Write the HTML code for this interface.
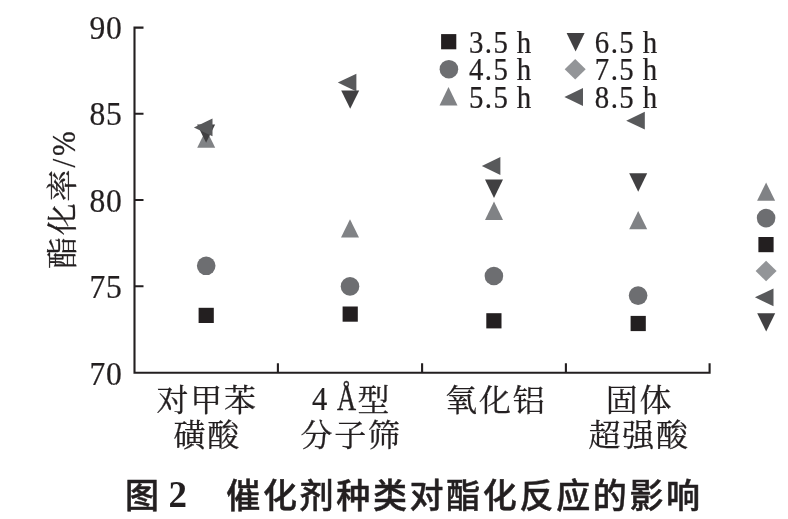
<!DOCTYPE html>
<html lang="zh-CN">
<head>
<meta charset="utf-8">
<title>图 2 催化剂种类对酯化反应的影响</title>
<style>
html,body{margin:0;padding:0;background:#fff;}
body{width:788px;height:519px;overflow:hidden;}
svg{display:block;}
.num{font-family:"Liberation Serif",serif;font-size:34px;letter-spacing:0.85px;fill:#231f20;stroke:#231f20;stroke-width:0.25px;}
.leg{font-family:"Liberation Serif",serif;font-size:32px;letter-spacing:1.6px;word-spacing:-1.2px;fill:#231f20;stroke:#231f20;stroke-width:0.25px;}
.cjk{font-family:"Liberation Serif","Noto Serif CJK SC",serif;font-size:32px;letter-spacing:1.8px;fill:#231f20;stroke:#231f20;stroke-width:0.3px;}
.cap{font-family:"Liberation Sans","Noto Sans CJK SC",sans-serif;font-weight:500;font-size:34px;fill:#231f20;stroke:#231f20;stroke-width:0.5px;}
.capn{font-family:"Liberation Serif",serif;font-weight:bold;font-size:37px;fill:#231f20;stroke:none;letter-spacing:0;}
</style>
</head>
<body>
<svg width="788" height="519" viewBox="0 0 788 519">
<rect width="788" height="519" fill="#ffffff"/>
<path d="M143.5,27.6 H134.5 V372.7 H709.6 V363.3" fill="none" stroke="#231f20" stroke-width="2.1" stroke-linejoin="miter"/>
<path d="M134.5,113.8 H143.5 M134.5,200 H143.5 M134.5,286.3 H143.5 M277.9,372.7 V363.3 M422.1,372.7 V363.3 M565.9,372.7 V363.3" fill="none" stroke="#231f20" stroke-width="2.1"/>
<rect x="198.60" y="307.80" width="15.2" height="15.2" fill="#231f20"/>
<circle cx="206.2" cy="265.8" r="9.3" fill="#6d6e71"/>
<polygon points="206.20,129.40 215.20,147.80 197.20,147.80" fill="#808285"/>
<polygon points="197.10,124.40 215.10,124.40 206.10,142.80" fill="#414042"/>
<polygon points="193.90,127.40 212.50,118.50 212.50,136.30" fill="#58595b"/>
<rect x="342.60" y="306.50" width="15.2" height="15.2" fill="#231f20"/>
<circle cx="350" cy="286.4" r="9.3" fill="#6d6e71"/>
<polygon points="350.00,219.20 359.00,237.60 341.00,237.60" fill="#808285"/>
<polygon points="341.20,90.40 359.20,90.40 350.20,108.80" fill="#414042"/>
<polygon points="337.80,82.60 356.40,73.70 356.40,91.50" fill="#58595b"/>
<rect x="486.30" y="313.20" width="15.2" height="15.2" fill="#231f20"/>
<circle cx="493.9" cy="276.0" r="9.3" fill="#6d6e71"/>
<polygon points="494.00,201.50 503.00,219.90 485.00,219.90" fill="#808285"/>
<polygon points="485.00,179.50 503.00,179.50 494.00,197.90" fill="#414042"/>
<polygon points="481.80,166.00 500.40,157.10 500.40,174.90" fill="#58595b"/>
<rect x="630.60" y="315.90" width="15.2" height="15.2" fill="#231f20"/>
<circle cx="638.1" cy="295.6" r="9.3" fill="#6d6e71"/>
<polygon points="638.20,210.90 647.20,229.30 629.20,229.30" fill="#808285"/>
<polygon points="629.20,173.30 647.20,173.30 638.20,191.70" fill="#414042"/>
<polygon points="626.20,120.70 644.80,111.80 644.80,129.60" fill="#58595b"/>
<rect x="441.10" y="34.10" width="15.2" height="15.2" fill="#231f20"/>
<circle cx="448.9" cy="69.2" r="9.3" fill="#6d6e71"/>
<polygon points="448.50,87.10 457.50,105.50 439.50,105.50" fill="#808285"/>
<polygon points="566.60,33.00 584.60,33.00 575.60,51.40" fill="#414042"/>
<polygon points="564.70,69.30 575.20,59.00 585.70,69.30 575.20,79.60" fill="#939598"/>
<polygon points="564.40,97.00 583.00,88.10 583.00,105.90" fill="#58595b"/>
<polygon points="766.10,182.40 775.10,200.80 757.10,200.80" fill="#808285"/>
<circle cx="766.1" cy="218.1" r="9.3" fill="#6d6e71"/>
<rect x="758.40" y="237.00" width="15.2" height="15.2" fill="#231f20"/>
<polygon points="755.60,271.00 766.10,260.70 776.60,271.00 766.10,281.30" fill="#939598"/>
<polygon points="754.90,297.30 773.50,288.40 773.50,306.20" fill="#58595b"/>
<polygon points="757.20,313.20 775.20,313.20 766.20,331.60" fill="#414042"/>
<text transform="translate(89.5,38.7) scale(0.93,1)" class="num">90</text>
<text transform="translate(89.5,124.9) scale(0.93,1)" class="num">85</text>
<text transform="translate(89.5,211.6) scale(0.93,1)" class="num">80</text>
<text transform="translate(89.5,298.0) scale(0.93,1)" class="num">75</text>
<text transform="translate(89.5,384.9) scale(0.93,1)" class="num">70</text>
<text transform="translate(468.9,52.6) scale(0.9,1)" class="leg">3.5 h</text>
<text transform="translate(468.9,80.0) scale(0.9,1)" class="leg">4.5 h</text>
<text transform="translate(468.9,107.8) scale(0.9,1)" class="leg">5.5 h</text>
<text transform="translate(594.8,52.6) scale(0.9,1)" class="leg">6.5 h</text>
<text transform="translate(594.8,80.0) scale(0.9,1)" class="leg">7.5 h</text>
<text transform="translate(594.8,107.8) scale(0.9,1)" class="leg">8.5 h</text>
<text transform="translate(207.10,411.0) scale(1,0.965)" text-anchor="middle" class="cjk">对甲苯</text>
<text transform="translate(207.20,446.0) scale(1,0.965)" text-anchor="middle" class="cjk">磺酸</text>
<text transform="translate(351.10,446.0) scale(1,0.965)" text-anchor="middle" class="cjk">分子筛</text>
<text transform="translate(495.80,411.0) scale(1,0.965)" text-anchor="middle" class="cjk">氧化铝</text>
<text transform="translate(639.60,411.0) scale(1,0.965)" text-anchor="middle" class="cjk">固体</text>
<text transform="translate(639.10,445.5) scale(1,0.965)" text-anchor="middle" class="cjk">超强酸</text>
<text transform="translate(0,411.0) scale(1,0.965)" class="cjk"><tspan class="num" x="312.0" y="-0.62" textLength="15.30" lengthAdjust="spacingAndGlyphs" style="font-size:35.23px;letter-spacing:0">4</tspan> <tspan class="num" x="337.0" y="-0.62" textLength="19.15" lengthAdjust="spacingAndGlyphs" style="font-size:37.35px;letter-spacing:0;stroke-width:0.4px">Å</tspan><tspan x="357.6" y="0">型</tspan></text>
<text transform="translate(73.3,269) rotate(-90) scale(1,0.965)" class="cjk">酯化率<tspan class="num" x="101.40" y="1.35" textLength="8.71" lengthAdjust="spacingAndGlyphs" style="font-size:34.20px;letter-spacing:0">/</tspan><tspan class="num" x="113.00" y="1.35" textLength="24.74" lengthAdjust="spacingAndGlyphs" style="font-size:34.20px;letter-spacing:0">%</tspan></text>
<text x="125.1" y="508.4" class="cap">图 <tspan class="capn" x="168.4" y="507">2</tspan> <tspan x="226.3" y="508.4" letter-spacing="2.65">催化剂种类对酯化反应的影响</tspan></text>
</svg>
</body>
</html>
